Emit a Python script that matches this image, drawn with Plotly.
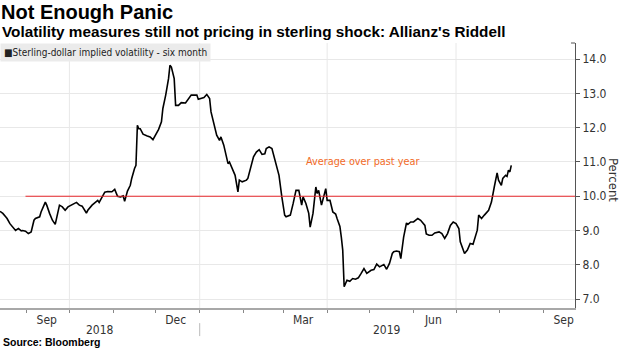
import pandas as pd
import plotly.graph_objects as go

# ---------------- data ----------------
dates = [
    "2018-08-13", "2018-08-15", "2018-08-17", "2018-08-18", "2018-08-20", "2018-08-22", "2018-08-24",
    "2018-08-26", "2018-08-28", "2018-08-29", "2018-08-31", "2018-09-02", "2018-09-04", "2018-09-06",
    "2018-09-07", "2018-09-10", "2018-09-11", "2018-09-14", "2018-09-15", "2018-09-17", "2018-09-19",
    "2018-09-21", "2018-09-22", "2018-09-24", "2018-09-26", "2018-09-28", "2018-09-30", "2018-10-02",
    "2018-10-04", "2018-10-06", "2018-10-08", "2018-10-10", "2018-10-13", "2018-10-14", "2018-10-17",
    "2018-10-19", "2018-10-21", "2018-10-22", "2018-10-24", "2018-10-26", "2018-10-28", "2018-10-31",
    "2018-11-02", "2018-11-04", "2018-11-06", "2018-11-08", "2018-11-09", "2018-11-11", "2018-11-13",
    "2018-11-14", "2018-11-16", "2018-11-17", "2018-11-18", "2018-11-19", "2018-11-20", "2018-11-22",
    "2018-11-25", "2018-11-27", "2018-11-29", "2018-12-01", "2018-12-03", "2018-12-05", "2018-12-06",
    "2018-12-08", "2018-12-10", "2018-12-11", "2018-12-12", "2018-12-14", "2018-12-15", "2018-12-17",
    "2018-12-19", "2018-12-22", "2018-12-24", "2018-12-26", "2018-12-28", "2018-12-30", "2018-12-31",
    "2019-01-02", "2019-01-04", "2019-01-06", "2019-01-08", "2019-01-09", "2019-01-11", "2019-01-13",
    "2019-01-15", "2019-01-16", "2019-01-18", "2019-01-20", "2019-01-21", "2019-01-22", "2019-01-24",
    "2019-01-26", "2019-01-28", "2019-01-29", "2019-01-31", "2019-02-03", "2019-02-04", "2019-02-06",
    "2019-02-08", "2019-02-10", "2019-02-12", "2019-02-14", "2019-02-16", "2019-02-17", "2019-02-19",
    "2019-02-21", "2019-02-22", "2019-02-24", "2019-02-26", "2019-02-28", "2019-03-02", "2019-03-03",
    "2019-03-06", "2019-03-08", "2019-03-10", "2019-03-12", "2019-03-14", "2019-03-15", "2019-03-17",
    "2019-03-19", "2019-03-20", "2019-03-22", "2019-03-24", "2019-03-25", "2019-03-26", "2019-03-28",
    "2019-03-29", "2019-03-31", "2019-04-01", "2019-04-03", "2019-04-05", "2019-04-07", "2019-04-08",
    "2019-04-10", "2019-04-11", "2019-04-12", "2019-04-13", "2019-04-15", "2019-04-17", "2019-04-19",
    "2019-04-21", "2019-04-23", "2019-04-25", "2019-04-27", "2019-04-29", "2019-05-01", "2019-05-02",
    "2019-05-04", "2019-05-06", "2019-05-08", "2019-05-09", "2019-05-11", "2019-05-13", "2019-05-15",
    "2019-05-17", "2019-05-18", "2019-05-20", "2019-05-22", "2019-05-23", "2019-05-24", "2019-05-25",
    "2019-05-27", "2019-05-28", "2019-05-30", "2019-06-01", "2019-06-03", "2019-06-04", "2019-06-06",
    "2019-06-08", "2019-06-09", "2019-06-10", "2019-06-12", "2019-06-14", "2019-06-16", "2019-06-19",
    "2019-06-21", "2019-06-23", "2019-06-25", "2019-06-27", "2019-06-29", "2019-07-01", "2019-07-03",
    "2019-07-04", "2019-07-06", "2019-07-07", "2019-07-09", "2019-07-11", "2019-07-13", "2019-07-14",
    "2019-07-16", "2019-07-17", "2019-07-19", "2019-07-21", "2019-07-23", "2019-07-24", "2019-07-26",
    "2019-07-27", "2019-07-28", "2019-07-30", "2019-07-31", "2019-08-02", "2019-08-03", "2019-08-05",
    "2019-08-06", "2019-08-07", "2019-08-08", "2019-08-09",
]
volatility = [
    9.56, 9.50, 9.40, 9.35, 9.20, 9.09, 9.00,
    9.06, 8.99, 9.00, 8.98, 8.91, 8.96, 9.30,
    9.35, 9.40, 9.54, 9.83, 9.74, 9.50, 9.30,
    9.18, 9.40, 9.74, 9.69, 9.59, 9.69, 9.74,
    9.79, 9.82, 9.74, 9.71, 9.51, 9.59, 9.74,
    9.80, 9.88, 9.82, 9.98, 10.12, 10.14, 10.13,
    10.20, 10.00, 9.98, 10.01, 9.85, 10.15, 10.32,
    10.52, 10.81, 10.90, 12.07, 11.97, 11.97, 11.81,
    11.76, 11.73, 11.65, 11.78, 11.95, 12.17, 12.56,
    12.95, 13.43, 13.82, 13.77, 13.43, 12.65, 12.65,
    12.73, 12.72, 12.85, 12.95, 12.95, 12.95, 12.83,
    12.85, 12.88, 12.97, 12.85, 12.46, 12.07, 11.78,
    11.63, 11.73, 11.49, 11.15, 10.95, 11.00, 10.81,
    10.61, 10.13, 10.47, 10.42, 10.47, 10.52, 10.85,
    11.15, 11.29, 11.36, 11.22, 11.24, 11.39, 11.44,
    11.39, 11.24, 10.95, 10.61, 9.98, 9.45, 9.40,
    9.45, 9.79, 10.17, 10.17, 9.74, 9.98, 9.79,
    9.50, 9.10, 9.50, 10.27, 10.08, 10.17, 9.74,
    9.88, 10.22, 9.88, 9.88, 9.54, 9.48, 9.35,
    9.12, 8.81, 8.43, 7.36, 7.55, 7.52, 7.60,
    7.58, 7.62, 7.75, 7.89, 7.75, 7.81, 7.84,
    7.86, 8.02, 7.94, 7.96, 8.01, 7.87, 8.04,
    8.33, 8.38, 8.40, 8.38, 8.18, 8.52, 8.81,
    9.22, 9.18, 9.25, 9.25, 9.32, 9.35, 9.30,
    9.22, 9.15, 8.90, 8.86, 8.86, 8.93, 8.96,
    8.91, 8.77, 8.91, 9.15, 9.25, 9.20, 9.06,
    8.67, 8.43, 8.33, 8.43, 8.62, 8.60, 8.72,
    9.01, 9.45, 9.35, 9.45, 9.54, 9.59, 9.83,
    10.13, 10.27, 10.68, 10.47, 10.32, 10.52, 10.61,
    10.58, 10.76, 10.71, 10.90,
]
average_value = 10.0
average_start = "2018-08-31"

x_range = ["2018-08-13", "2019-09-23"]
y_range = [6.74, 14.47]
month_label_dates = ["2018-09-15", "2018-12-15", "2019-03-15", "2019-06-15", "2019-09-15"]
month_labels = ["Sep", "Dec", "Mar", "Jun", "Sep"]
quarter_grid_dates = ["2018-10-01", "2019-01-01", "2019-04-01", "2019-07-01"]
year_break = "2019-01-01"
year_labels = ["2018", "2019"]

title = "Not Enough Panic"
subtitle = "Volatility measures still not pricing in sterling shock: Allianz's Riddell"
series_name = "Sterling-dollar implied volatility - six month"
avg_label = "Average over past year"
avg_label_date = "2019-04-26"
source = "Source: Bloomberg"

# ---------------- styling ----------------
NARROW = "Liberation Sans Narrow, Arial Narrow, DejaVu Sans Condensed, sans-serif"
BOLD = "Liberation Sans, Arial, sans-serif"
GRID = "#e8e8e8"
AXIS = "#555555"

fig = go.Figure()
fig.add_trace(go.Scatter(x=dates, y=volatility, mode="lines",
                         line=dict(color="#000000", width=1.6),
                         name=series_name, showlegend=False))

shapes = []
for d in quarter_grid_dates:
    shapes.append(dict(type="line", xref="x", yref="paper", x0=d, x1=d, y0=0, y1=1,
                       line=dict(color=GRID, width=1), layer="below"))
shapes.append(dict(type="line", xref="x", yref="y", x0=average_start, x1=x_range[1],
                   y0=average_value, y1=average_value,
                   line=dict(color="#e8262b", width=1), layer="above"))
shapes.append(dict(type="line", xref="x", yref="paper", x0=year_break, x1=year_break,
                   y0=-0.057, y1=-0.106, line=dict(color="#bbbbbb", width=1)))
# small bracket end on the right axis
shapes.append(dict(type="line", xref="paper", yref="paper", x0=0.993, x1=1.0, y0=1, y1=1,
                   line=dict(color=AXIS, width=1)))

start = pd.Timestamp(x_range[0]); brk = pd.Timestamp(year_break); end = pd.Timestamp(x_range[1])
year_centers = [start + (brk - start) / 2, brk + (end - brk) / 2]

ann = []
ann.append(dict(text="<b>" + title + "</b>", xref="paper", yref="paper", x=0.0, y=1.117,
                xanchor="left", yanchor="middle", showarrow=False,
                font=dict(family=BOLD, size=20, color="#000000"), xshift=-1))
ann.append(dict(text="<b>" + subtitle + "</b>", xref="paper", yref="paper", x=0.0, y=1.045,
                xanchor="left", yanchor="middle", showarrow=False,
                font=dict(family=BOLD, size=15.3, color="#000000")))
ann.append(dict(text="■" + series_name, xref="paper", yref="paper", x=0.0, y=0.966,
                xanchor="left", yanchor="middle", showarrow=False, bgcolor="#ebebeb", borderpad=3,
                font=dict(family=NARROW, size=10, color="#222222")))
ann.append(dict(text=avg_label, xref="x", yref="y", x=avg_label_date, y=11.0,
                xanchor="center", yanchor="middle", showarrow=False,
                font=dict(family=NARROW, size=10.8, color="#f26b28")))
for yl, xc in zip(year_labels, year_centers):
    ann.append(dict(text=yl, xref="x", yref="paper", x=xc, y=-0.082, xanchor="center",
                    yanchor="middle", showarrow=False, font=dict(family=NARROW, size=12, color="#333333")))
ann.append(dict(text="<b>" + source + "</b>", xref="paper", yref="paper", x=0.0, y=-0.128,
                xanchor="left", yanchor="middle", showarrow=False,
                font=dict(family=BOLD, size=10.5, color="#000000"), xshift=1))
ann.append(dict(text="Percent", xref="paper", yref="paper", x=614 / 575, y=0.483, xanchor="center",
                yanchor="middle", textangle=90, showarrow=False,
                font=dict(family=NARROW, size=13, color="#333333")))

fig.update_layout(
    width=620, height=348,
    margin=dict(l=0, r=45, t=43, b=40),
    paper_bgcolor="white", plot_bgcolor="white",
    showlegend=False,
    shapes=shapes, annotations=ann,
    xaxis=dict(type="date", range=x_range, tickmode="array", tickvals=month_label_dates,
               ticktext=month_labels, ticks="", showgrid=False, zeroline=False,
               showline=True, linecolor="#a8a8a8", linewidth=2,
               tickfont=dict(family=NARROW, size=12, color="#333333"),
               minor=dict(ticks="outside", ticklen=3, tickcolor="#888888", tickmode="linear",
                          dtick="M1", tick0="2018-08-01", showgrid=False)),
    yaxis=dict(side="right", range=y_range, dtick=1, tick0=7, tickformat=".1f",
               showgrid=True, gridcolor=GRID, zeroline=False,
               showline=True, linecolor=AXIS, linewidth=1,
               ticks="outside", ticklen=4, tickcolor=AXIS,
               tickfont=dict(family=NARROW, size=12, color="#333333")),
)

fig.write_html("out.html")
